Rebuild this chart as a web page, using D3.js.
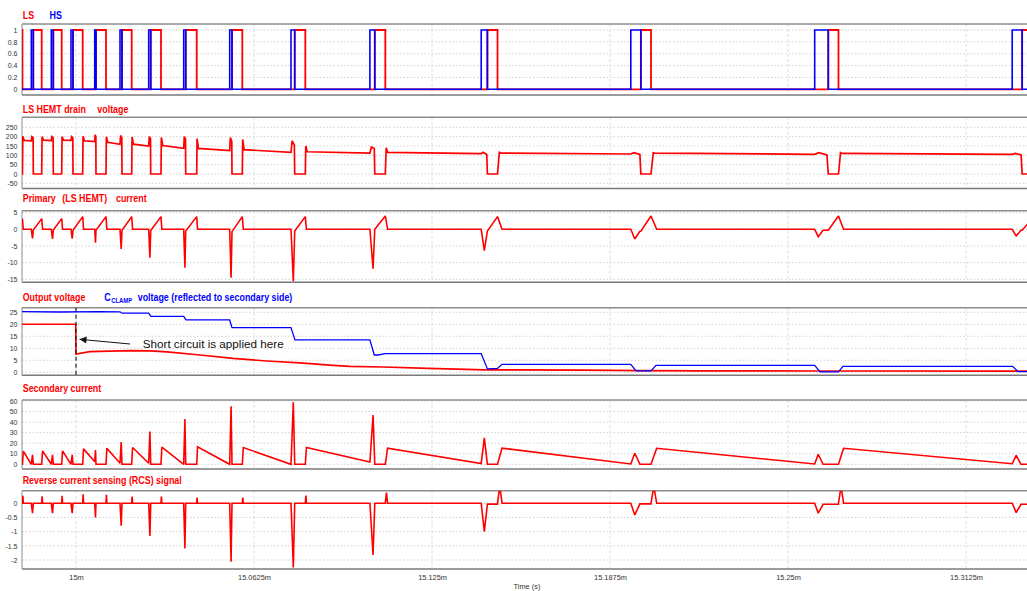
<!DOCTYPE html>
<html>
<head>
<meta charset="utf-8">
<script src="https://cdn.jsdelivr.net/npm/d3@7"></script>
<style>
  html, body { margin: 0; padding: 0; background: #fff; }
  svg { display: block; }
</style>
</head>
<body>
<svg id="chart" width="1027" height="591"></svg>
<script>
// ---------------- time axis (µs after 15 ms) ----------------
const timeDomain = [-18.96, 333.9];
const tickTimes  = [0, 62.5, 125, 187.5, 250, 312.5];
const tickLabels = ["15m", "15.0625m", "15.125m", "15.1875m", "15.25m", "15.3125m"];

// ---------------- switching events (µs after 15 ms) ----------------
// LS turn-off instants: the first is at the left edge, the last lies past the window
const lsOffTimes  = [-18.8, -12.04, -5.02, 2.35, 10.53, 19.56, 29.84, 42.38, 58.39, 80.51, 108.60, 147.99, 201.88, 267.71, 336.5];
const hsOnTimes   = [-15.69, -8.67, -1.76, 6.57, 15.45, 25.52, 37.81, 53.96, 75.49, 103.19, 142.27, 194.79, 259.36, 328.7];
const spikeTimes  = [-15.27, -8.25, -1.33, 6.84, 15.87, 25.95, 38.24, 54.45, 76.3, 104.3, 143.37, 196.19, 260.6, 330.1];
const settleTimes = [-14.99, -7.97, -1.05, 7.02, 16.15, 26.23, 38.52, 54.77, 76.79, 104.9, 144.44, 198.0, 262.3, 331.8];
const lsOnTimes   = [-14.99, -7.97, -1.05, 7.02, 16.15, 26.23, 38.52, 54.77, 76.79, 104.9, 144.44, 198.33, 264.13, 332.2];
const turnOffEdge = [0.3, 0.3, 0.3, 0.3, 0.3, 0.3, 0.3, 0.3, 0.35, 0.4, 0.8, 1.6, 2.0, 1.8];

// ---------------- LS HEMT drain voltage (V) ----------------
const vdsOffPeak  = [202, 200, 200, 202, 200, 198, 196, 190, 185, 150, 141, 116, 114, 114];
const vdsOffStart = [180, 181, 181, 178, 170, 160, 152, 137, 130, 119, 116, 112, 112, 110];
const vdsOffEnd   = [178, 179, 180, 173, 159, 150, 137, 125, 116, 112, 109, 107, 105, 105];
const vdsHsPeak   = [200, 200, 200, 210, 206, 200, 200, 195, 177, 144, 116, 114, 114, 110];
const vdsHsEnd    = [195, 195, 195, 200, 195, 190, 188, 173, 155, 136, 105, 105, 102, 102];

// ---------------- primary (LS HEMT) current (A) ----------------
const ipEdge  = 3.0;
const ipNeg   = [-2.7, -2.9, -2.8, -4.0, -5.9, -8.5, -11.5, -14.5, -15.6, -11.8, -6.4, -2.9, -2.2, -2.0];
const ipStart = [-0.2, -0.2, -0.3, -0.3, -0.3, -0.4, -0.5, -0.7, -0.5, 0, -0.5, -0.6, -0.3, -0.3];
const ipPeak  = [3.2, 3.2, 3.8, 3.8, 3.8, 3.8, 3.8, 3.8, 3.8, 4.0, 3.8, 4.0, 4.0, 4.0];

// ---------------- output voltage and clamp voltage (V) ----------------
const voutT = [-18.96, -0.1, 0, 4.9, 18.96, 25.98, 31.95, 43.54, 55.12, 67.06, 78.65, 90.23, 96.2, 108.1, 123.6, 143.6, 177.7, 198, 219, 262.6, 333.9];
const voutV = [20, 20, 7.6, 8.6, 9.0, 8.9, 8.5, 7.2, 5.8, 4.7, 3.9, 2.9, 2.5, 2.2, 1.6, 1.0, 0.9, 0.7, 0.6, 0.55, 0.5];
const clampT = [-18.96, -5.62, 8.43, 15.45, 16.15, 25.52, 26.33, 37.81, 38.62, 53.96, 54.77, 75.49, 76.89, 103.19, 104.73, 106.03, 108.60, 142.27, 144.44, 147.99, 149.57, 194.79, 196.62, 201.88, 203.64, 259.36, 261.22, 267.71, 269.29, 328.87, 330.73, 333.9];
const clampV = [25.3, 25.1, 25.3, 25.2, 24.6, 24.6, 23.3, 23.3, 21.8, 21.8, 18.6, 18.6, 13.5, 13.5, 7.2, 7.2, 7.8, 7.8, 1.4, 1.6, 3.3, 3.3, 0.6, 0.6, 2.9, 2.9, 0.2, 0.2, 2.5, 2.5, 0.3, 0.3];
const shortCircuitT = 0;

// ---------------- secondary current (A) ----------------
const secPeak  = [12.5, 12.7, 12.7, 14.6, 15.2, 15.9, 16.2, 16.5, 15.9, 16.0, 15.3, 15.3, 15.2, 15.2];
const secEnd   = [0, 0, 0, 2.5, 1.0, 1.0, 0, 0, 0, 2.2, 0.8, 0.3, 0.3, 0.5];
const secSpike = [9, 9, 9, 13.6, 21, 31, 43, 55, 59, 46.7, 25, 10.5, 9.5, 8.5];

// ---------------- reverse current sensing signal (V) ----------------
const rcsPos  = [0.26, 0.25, 0.26, 0.32, 0.30, 0.24, 0.24, 0.20, 0.20, 0.27, 0.38, 0.6, 0.6, 0.6];
const rcsNeg  = [-0.35, -0.35, -0.35, -0.5, -0.79, -1.15, -1.59, -2.06, -2.26, -1.82, -1.0, -0.41, -0.35, -0.33];
const rcsHold = [0, 0, 0, 0, 0, 0, 0, 0, 0, 0, -0.03, -0.02, -0.035, -0.035];

// ---------------- y tick values per panel ----------------
const gateTicks  = [0, 0.2, 0.4, 0.6, 0.8, 1];
const vdsTicks   = [-50, 0, 50, 100, 150, 200, 250];
const ipTicks    = [-15, -10, -5, 0, 5];
const voutTicks  = [0, 5, 10, 15, 20, 25];
const secTicks   = [0, 10, 20, 30, 40, 50, 60];
const rcsTicks   = [-2, -1.5, -1, -0.5, 0];

// =====================================================================
const FONT = '"Liberation Sans", Arial, Helvetica, sans-serif';
const RED = "#ff0000", BLUE = "#0000ff";
const plotLeft = 22, plotRight = 1027;
const svg = d3.select("#chart").attr("font-family", FONT);
const x = d3.scaleLinear().domain(timeDomain).range([plotLeft, plotRight]);
const t0 = timeDomain[0], t1 = timeDomain[1];
const N = hsOnTimes.length;

// ---- traces built from the switching events ----
const lsGate = [[t0, 1], [lsOffTimes[0], 1], [lsOffTimes[0], 0]];
const hsGate = [[t0, 0]];
for (let k = 0; k < N; k++) {
  lsGate.push([lsOnTimes[k], 0], [lsOnTimes[k], 1], [lsOffTimes[k + 1], 1], [lsOffTimes[k + 1], 0]);
  hsGate.push([hsOnTimes[k], 0], [hsOnTimes[k], 1], [lsOnTimes[k], 1], [lsOnTimes[k], 0]);
}
hsGate.push([t1, 0]);

// drain voltage: fast rise at LS turn-off, plateau, clamp bump while HS conducts, zero while LS conducts
const vds = [[t0, 0]];
for (let k = 0; k < N; k++) {
  const o = lsOffTimes[k], r = 0.4 * turnOffEdge[k], w = lsOnTimes[k] - hsOnTimes[k];
  vds.push([o, 0], [o + r, vdsOffPeak[k]], [o + r + 0.5, vdsOffStart[k]], [hsOnTimes[k], vdsOffEnd[k]],
           [hsOnTimes[k] + 0.3 * w, vdsHsPeak[k]], [lsOnTimes[k] - 0.1 * w, vdsHsEnd[k]], [lsOnTimes[k], 0],
           [lsOffTimes[k + 1], 0]);
}

const ip = [[t0, ipEdge], [lsOffTimes[0], ipEdge]];
for (let k = 0; k < N; k++) {
  ip.push([lsOffTimes[k] + turnOffEdge[k], 0], [hsOnTimes[k], 0], [spikeTimes[k], ipNeg[k]],
          [settleTimes[k], ipStart[k]], [lsOnTimes[k], ipStart[k]], [lsOffTimes[k + 1], ipPeak[k]]);
}

const isec = [[t0, 0]];
for (let k = 0; k < N; k++) {
  const o = lsOffTimes[k], r = turnOffEdge[k];
  isec.push([o, 0], [o + r, secPeak[k]], [hsOnTimes[k], secEnd[k]], [spikeTimes[k], secSpike[k]],
            [settleTimes[k], 0], [lsOffTimes[k + 1], 0]);
}

const rcs = [[t0, 0]];
for (let k = 0; k < N; k++) {
  const o = lsOffTimes[k], r = turnOffEdge[k];
  rcs.push([o, 0], [o + 0.5 * r, rcsPos[k]], [o + r, 0], [hsOnTimes[k], 0], [spikeTimes[k], rcsNeg[k]],
           [settleTimes[k], rcsHold[k]], [lsOffTimes[k + 1], rcsHold[k]]);
}

const vout  = voutT.map((t, i) => [t, voutV[i]]);
const clamp = clampT.map((t, i) => [t, clampV[i]]);

// ---- panel frames ----
const panelSpecs = [
  { id: "gate", top: 24,    bottom: 95,    domain: [-0.096, 1.101], ticks: gateTicks },
  { id: "vds",  top: 117.3, bottom: 188.5, domain: [-77.6, 303.5],  ticks: vdsTicks },
  { id: "ip",   top: 210.7, bottom: 282.3, domain: [-15.9, 5.58],   ticks: ipTicks },
  { id: "vout", top: 307.7, bottom: 375.3, domain: [-1.25, 26.9],   ticks: voutTicks },
  { id: "isec", top: 400,   bottom: 469,   domain: [-4.45, 60.9],   ticks: secTicks },
  { id: "rcs",  top: 490.7, bottom: 569,   domain: [-2.317, 0.444], ticks: rcsTicks }
];

const defs = svg.append("defs");
function makePanel(spec) {
  const y = d3.scaleLinear().domain(spec.domain).range([spec.bottom, spec.top]);
  const g = svg.append("g");
  defs.append("clipPath").attr("id", "clip-" + spec.id).append("rect")
    .attr("x", plotLeft).attr("y", spec.top)
    .attr("width", plotRight - plotLeft).attr("height", spec.bottom - spec.top);

  g.append("rect").attr("x", plotLeft).attr("y", spec.top)
    .attr("width", plotRight - plotLeft).attr("height", spec.bottom - spec.top).attr("fill", "#fff");

  // horizontal dotted grid
  g.append("g").selectAll("line").data(spec.ticks).join("line")
    .attr("x1", plotLeft).attr("x2", plotRight)
    .attr("y1", d => y(d)).attr("y2", d => y(d))
    .attr("stroke", "#c8c8c8").attr("stroke-width", 0.8).attr("stroke-dasharray", "1.5,2");
  // vertical dashed grid
  g.append("g").selectAll("line").data(tickTimes).join("line")
    .attr("x1", d => x(d)).attr("x2", d => x(d))
    .attr("y1", spec.top).attr("y2", spec.bottom)
    .attr("stroke", "#d6d6d6").attr("stroke-width", 0.8).attr("stroke-dasharray", "3,2");

  // y axis labels
  const ax = g.append("g").attr("transform", `translate(${plotLeft},0)`)
    .call(d3.axisLeft(y).tickValues(spec.ticks).tickFormat(d => String(d)).tickSize(0).tickPadding(4.5));
  ax.select(".domain").remove();
  ax.selectAll("text").attr("font-size", 7).attr("font-family", FONT).attr("fill", "#333");

  // frame
  g.append("line").attr("x1", plotLeft).attr("x2", plotRight).attr("y1", spec.top).attr("y2", spec.top)
    .attr("stroke", "#8c8c8c").attr("stroke-width", 1.5);
  g.append("line").attr("x1", plotLeft).attr("x2", plotRight).attr("y1", spec.bottom).attr("y2", spec.bottom)
    .attr("stroke", "#7a7a7a").attr("stroke-width", 1.5);
  g.append("line").attr("x1", plotLeft).attr("x2", plotLeft).attr("y1", spec.top).attr("y2", spec.bottom)
    .attr("stroke", "#8c8c8c").attr("stroke-width", 1);

  const plot = g.append("g").attr("clip-path", `url(#clip-${spec.id})`);
  return { y, plot, spec };
}
const panels = {};
panelSpecs.forEach(s => { panels[s.id] = makePanel(s); });

function trace(panel, data, color, width) {
  const line = d3.line().x(d => x(d[0])).y(d => panel.y(d[1]));
  panel.plot.append("path").datum(data).attr("d", line)
    .attr("fill", "none").attr("stroke", color).attr("stroke-width", width)
    .attr("stroke-linejoin", "miter").attr("stroke-miterlimit", 2);
}

trace(panels.gate, lsGate, RED, 1.8);
trace(panels.gate, hsGate, BLUE, 1.6);
trace(panels.vds, vds, RED, 1.7);
trace(panels.ip, ip, RED, 1.6);
trace(panels.vout, vout, RED, 1.7);
trace(panels.vout, clamp, BLUE, 1.3);
trace(panels.isec, isec, RED, 1.6);
trace(panels.rcs, rcs, RED, 1.6);

// ---- time axis ----
const xAxis = svg.append("g").attr("transform", `translate(0,${panelSpecs[5].bottom})`)
  .call(d3.axisBottom(x).tickValues(tickTimes).tickFormat((d, i) => tickLabels[i]).tickSize(0).tickPadding(5.5));
xAxis.select(".domain").remove();
xAxis.selectAll("text").attr("font-size", 7.4).attr("font-family", FONT).attr("fill", "#333");
svg.append("text").attr("x", 527).attr("y", 588.5).attr("text-anchor", "middle")
  .attr("font-size", 7.4).attr("fill", "#333").text("Time (s)");

// ---- panel titles ----
function title(txt, x0, yb, color, size) {
  return svg.append("text").attr("transform", `translate(${x0},${yb}) scale(0.89,1)`)
    .attr("font-size", size || 10).attr("font-weight", "bold").attr("fill", color)
    .attr("xml:space", "preserve").text(txt);
}
title("LS", 22.7, 19.3, RED);
title("HS", 49.5, 19.3, BLUE);
title("LS HEMT drain", 22.7, 113.3, RED);
title("voltage", 97.3, 113.3, RED);
title("Primary", 22.7, 202.3, RED);
title("(LS HEMT)", 62.3, 202.3, RED);
title("current", 116, 202.3, RED);
title("Output voltage", 22.7, 301, RED);
title("C", 104.3, 301, BLUE);
title("CLAMP", 111.2, 302.6, BLUE, 6.6);
title("voltage (reflected to secondary side)", 137.7, 301, BLUE);
title("Secondary current", 22.7, 392.3, RED);
title("Reverse current sensing (RCS) signal", 22.7, 484, RED);

// ---- short-circuit annotation ----
const pv = panels.vout;
const xs = x(shortCircuitT);
svg.append("line").attr("x1", xs).attr("x2", xs)
  .attr("y1", pv.spec.top).attr("y2", pv.spec.bottom)
  .attr("stroke", "#111").attr("stroke-width", 1.1).attr("stroke-dasharray", "4,3");
defs.append("marker").attr("id", "arrowhead").attr("viewBox", "0 0 10 10")
  .attr("refX", 10).attr("refY", 5).attr("markerWidth", 8).attr("markerHeight", 7)
  .attr("markerUnits", "userSpaceOnUse").attr("orient", "auto")
  .append("path").attr("d", "M0,0 L10,5 L0,10 z").attr("fill", "#111");
svg.append("line").attr("x1", xs + 54).attr("y1", 344).attr("x2", xs + 3.5).attr("y2", 339.3)
  .attr("stroke", "#111").attr("stroke-width", 1).attr("marker-end", "url(#arrowhead)");
svg.append("text").attr("x", 142.7).attr("y", 348.3).attr("font-size", 11.7).attr("fill", "#111")
  .text("Short circuit is applied here");
</script>
</body>
</html>
